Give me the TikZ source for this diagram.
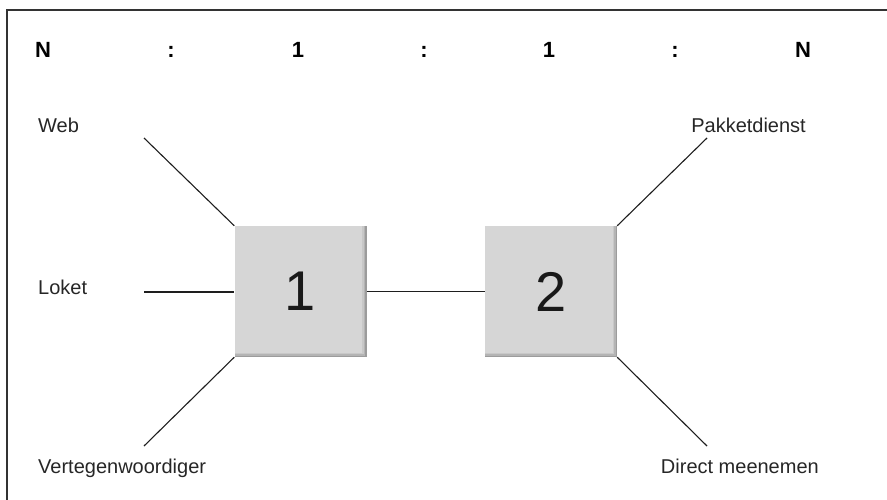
\documentclass[tikz,border=0pt]{standalone}
\usepackage{fontspec}
\setmainfont{Liberation Sans}
\definecolor{facegray}{HTML}{D6D6D6}
\definecolor{edgeA}{HTML}{C8C8C8}
\definecolor{edgeB}{HTML}{B4B4B4}
\definecolor{edgeC}{HTML}{9C9C9C}
\definecolor{linegray}{HTML}{1E1E1E}
\definecolor{framegray}{HTML}{333333}
\begin{document}
\begin{tikzpicture}[x=1pt,y=-1pt,
  bevelbox/.style={minimum width=132pt, minimum height=131pt, inner sep=0pt,
    fill=edgeC, font=\fontsize{56}{56}\selectfont, text=black!90,
    path picture={
      \fill[edgeB] (path picture bounding box.north west) rectangle ([xshift=-1.5pt,yshift=1.5pt]path picture bounding box.south east);
      \fill[edgeA] (path picture bounding box.north west) rectangle ([xshift=-3pt,yshift=3pt]path picture bounding box.south east);
      \fill[facegray] (path picture bounding box.north west) rectangle ([xshift=-4.5pt,yshift=4.5pt]path picture bounding box.south east);
    }},
  lbl/.style={font=\fontsize{20}{20}\selectfont, inner sep=0pt, text=black!85},
  ratio/.style={font=\bfseries\fontsize{22}{22}\selectfont, inner sep=0pt, anchor=base},
  conn/.style={draw=linegray, line width=1.1pt}]
\useasboundingbox (0,0) rectangle (887,500);
% outer frame, open towards the right and bottom
\draw[framegray, line width=1.4pt] (7,500) -- (7,10) -- (887,10);

% cardinality header
\node[ratio] (r1) at (43,58) {N};
\node[ratio] (r2) at (171,58) {:};
\node[ratio] (r3) at (298,58) {1};
\node[ratio] (r4) at (424,58) {:};
\node[ratio] (r5) at (549,58) {1};
\node[ratio] (r6) at (675,58) {:};
\node[ratio] (r7) at (803,58) {N};

% the two central blocks
\node[bevelbox] (b1) at (300.5,291.5) {1};
\node[bevelbox] (b2) at (551,291.5) {2};

% channel labels
\node[lbl, anchor=base west] (web) at (38,133) {Web};
\node[lbl, anchor=base west] (loket) at (38,294) {Loket};
\node[lbl, anchor=base west] (vert) at (38,473) {Vertegenwoordiger};
\node[lbl, anchor=base east] (pakket) at (806,133) {Pakketdienst};
\node[lbl, anchor=base east] (direct) at (819,473) {Direct meenemen};

% free ends of the spokes
\coordinate (cweb) at (144,138);
\coordinate (cloket) at (144,292);
\coordinate (cvert) at (144,446);
\coordinate (cpakket) at (707,138);
\coordinate (cdirect) at (707,446);

\draw[conn] (cweb) -- (b1.north west);
\draw[conn] (cloket) -- (b1.west |- cloket);
\draw[conn] (cvert) -- (b1.south west);
\draw[conn] (b1.east) -- (b2.west);
\draw[conn] (b2.north east) -- (cpakket);
\draw[conn] (b2.south east) -- (cdirect);
\end{tikzpicture}
\end{document}
